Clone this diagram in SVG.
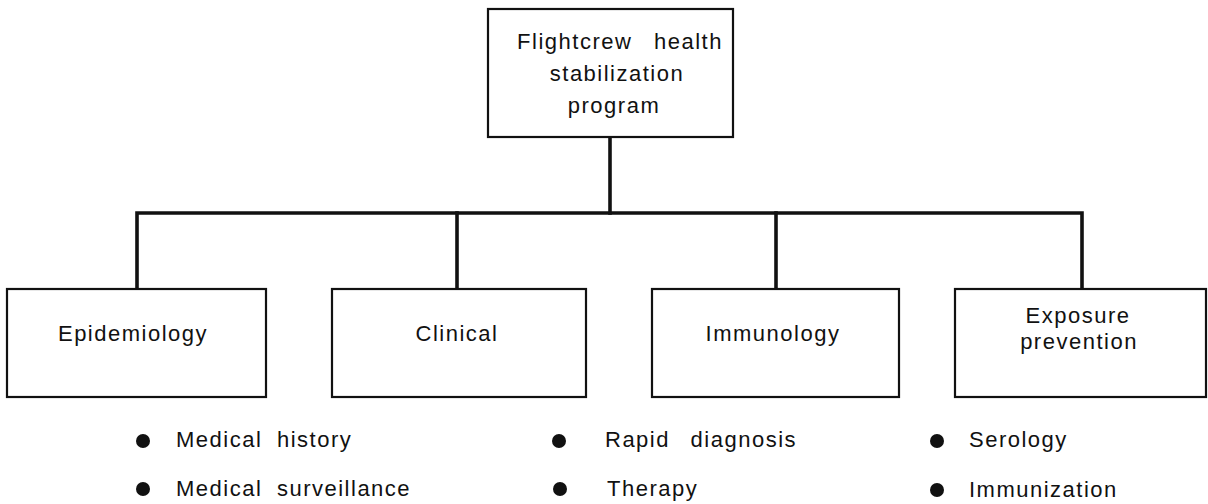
<svg xmlns="http://www.w3.org/2000/svg" width="1208" height="504" viewBox="0 0 1208 504">
  <style>
    .box { fill: #ffffff; stroke: #111111; stroke-width: 2.2; }
    .wire { fill: none; stroke: #111111; stroke-width: 3.6; stroke-linecap: square; }
    .lbl { font-family: "Liberation Sans", Arial, sans-serif; font-size: 22px; letter-spacing: 1.5px; fill: #111111; }
    .mid { text-anchor: middle; }
    .dot { fill: #111111; }
  </style>
  <rect width="1208" height="504" fill="#ffffff"/>

  <!-- tree connectors -->
  <g id="connectors">
    <path class="wire" d="M610,137 V213"/>
    <path class="wire" d="M137,289 V213 H1082 V289"/>
    <path class="wire" d="M457,213 V289"/>
    <path class="wire" d="M776,213 V289"/>
  </g>

  <g id="program">
    <rect class="box" x="488" y="9" width="245" height="128"/>
    <text class="lbl mid" x="620" y="49" word-spacing="14">Flightcrew health</text>
    <text class="lbl mid" x="617" y="81">stabilization</text>
    <text class="lbl mid" x="614" y="113">program</text>
  </g>

  <g id="epidemiology">
    <rect class="box" x="7" y="289" width="259" height="108"/>
    <text class="lbl mid" x="133" y="341">Epidemiology</text>
  </g>

  <g id="clinical">
    <rect class="box" x="332" y="289" width="254" height="108"/>
    <text class="lbl mid" x="457" y="341">Clinical</text>
  </g>

  <g id="immunology">
    <rect class="box" x="652" y="289" width="247" height="108"/>
    <text class="lbl mid" x="773" y="341">Immunology</text>
  </g>

  <g id="exposure">
    <rect class="box" x="955" y="289" width="251" height="108"/>
    <text class="lbl mid" x="1078" y="323">Exposure</text>
    <text class="lbl mid" x="1079" y="349">prevention</text>
  </g>

  <!-- bullet lists under the boxes -->
  <g id="list-epidemiology">
    <circle class="dot" cx="143" cy="441" r="7"/>
    <text class="lbl" x="176" y="447" word-spacing="7">Medical history</text>
    <circle class="dot" cx="143" cy="489" r="7"/>
    <text class="lbl" x="176" y="496" word-spacing="7">Medical surveillance</text>
  </g>

  <g id="list-clinical">
    <circle class="dot" cx="559" cy="441" r="7"/>
    <text class="lbl" x="605" y="447" word-spacing="13">Rapid diagnosis</text>
    <circle class="dot" cx="560" cy="489" r="7"/>
    <text class="lbl" x="607" y="496">Therapy</text>
  </g>

  <g id="list-immunology">
    <circle class="dot" cx="937" cy="441" r="7"/>
    <text class="lbl" x="969" y="447">Serology</text>
    <circle class="dot" cx="937" cy="490" r="7"/>
    <text class="lbl" x="969" y="497">Immunization</text>
  </g>
</svg>
